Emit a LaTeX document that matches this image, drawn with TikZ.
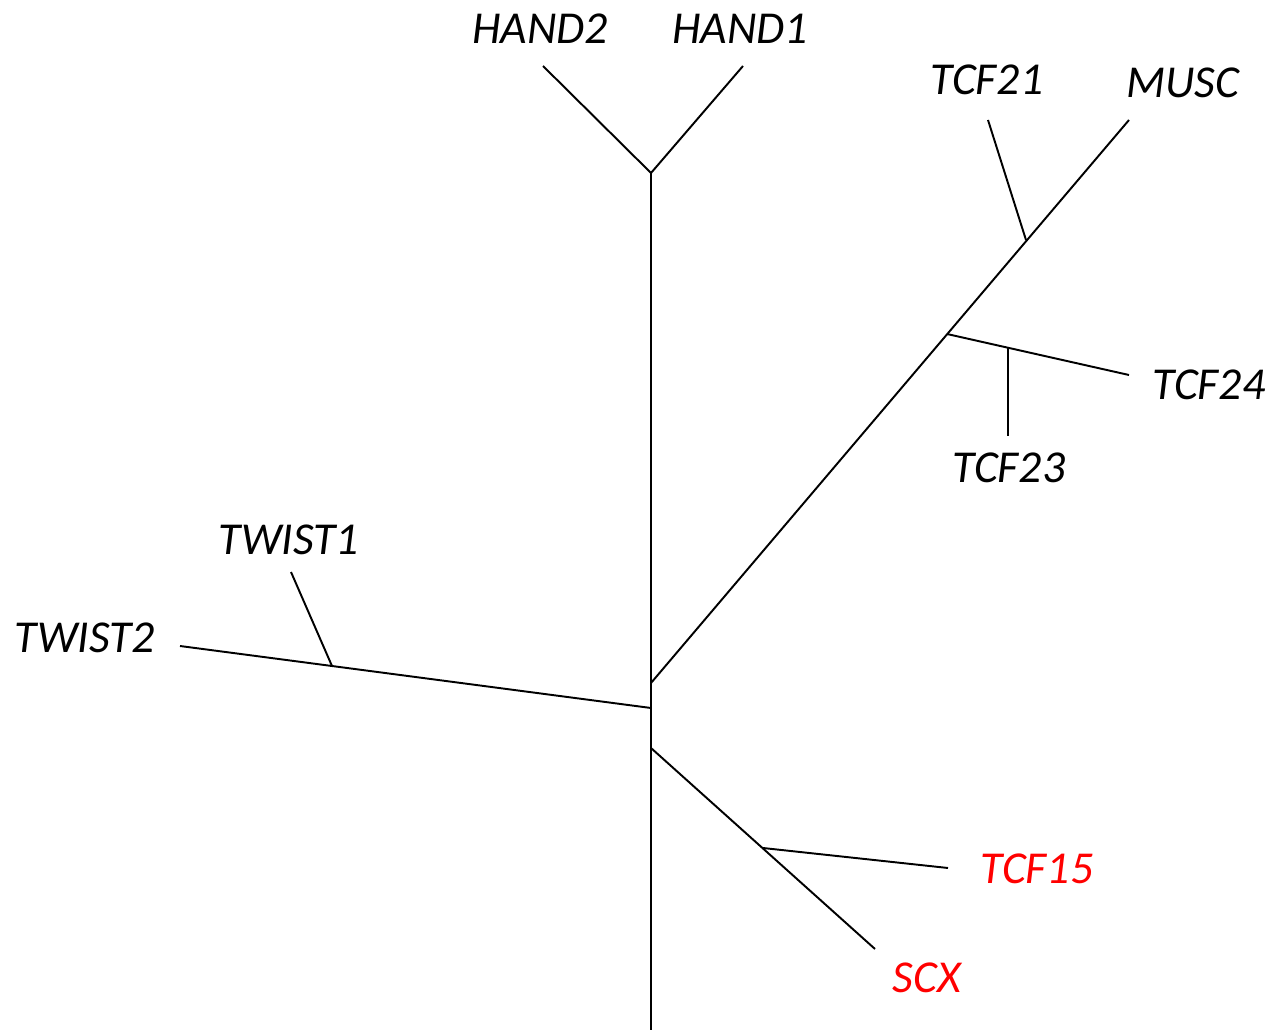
\documentclass[tikz,border=0pt]{standalone}
\usepackage{fontspec}
\setmainfont{Carlito}
\tikzset{
  gene/.style={inner sep=0pt, font=\fontsize{26}{30}\selectfont\itshape},
  branch/.style={line width=1.1pt, black},
}
\begin{document}
\begin{tikzpicture}[x=0.02cm,y=-0.02cm]
  \useasboundingbox (0,0) rectangle (1282,1030);
  % internal points of the tree
  \coordinate (top) at (651,173);
  \coordinate (bot) at (651,1030);
  \coordinate (rR) at (651,683);
  \coordinate (rL) at (651,708);
  \coordinate (rS) at (651,748);
  \coordinate (j21) at (1026,240);
  \coordinate (j24) at (947,334);
  \coordinate (j23) at (1008,348);
  \coordinate (jtw) at (332,666);
  \coordinate (j15) at (763,848);
  % leaf tips
  \coordinate (eH2) at (543,66);
  \coordinate (eH1) at (743,66);
  \coordinate (eMU) at (1129,120);
  \coordinate (e21) at (988,120);
  \coordinate (e24) at (1129,375);
  \coordinate (e23) at (1008,436);
  \coordinate (eT2) at (180,646);
  \coordinate (eT1) at (291,572);
  \coordinate (e15) at (948,868);
  \coordinate (eSC) at (875,949);
  % labels
  \node[gene] (hand2) at (540,29) {HAND2};
  \node[gene] (hand1) at (740,29) {HAND1};
  \node[gene] (tcf21) at (987,80) {TCF21};
  \node[gene] (musc) at (1183,83) {MUSC};
  \node[gene] (tcf24) at (1209,385) {TCF24};
  \node[gene] (tcf23) at (1009,468) {TCF23};
  \node[gene] (twist1) at (289,540) {TWIST1};
  \node[gene] (twist2) at (85,638) {TWIST2};
  \node[gene, red] (tcf15) at (1037,869) {TCF15};
  \node[gene, red] (scx) at (927,978) {SCX};
  % branches
  \draw[branch] (bot) -- (top);
  \draw[branch] (eH2) -- (top) -- (eH1);
  \draw[branch] (rR) -- (eMU);
  \draw[branch] (j21) -- (e21);
  \draw[branch] (j24) -- (e24);
  \draw[branch] (j23) -- (e23);
  \draw[branch] (rL) -- (eT2);
  \draw[branch] (jtw) -- (eT1);
  \draw[branch] (rS) -- (eSC);
  \draw[branch] (j15) -- (e15);
\end{tikzpicture}
\end{document}
